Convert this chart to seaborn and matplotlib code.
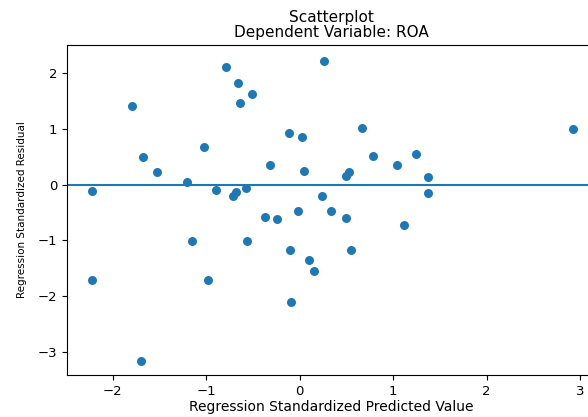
import numpy as np
import matplotlib
matplotlib.use("Agg")
import matplotlib.pyplot as plt
import pandas as pd
import seaborn as sns

# predicted vs residual values
predicted = [-2.22, -1.79, -1.68, -1.53, -1.21, -1.02, -0.90, -0.79, -0.71, -0.68,
             -0.66, -0.64, -0.58, -0.51, -0.32, -0.11, 0.02, 0.05, 0.24, 0.26,
             0.67, 0.78, 1.24, 1.04, 0.50, 0.53, 1.37, 1.37, 0.33, 0.50,
             -0.02, 1.12, 0.55, 0.10, 0.15, 2.92, -0.37, -0.24, -1.15, -0.56,
             -0.10, -2.22, -0.98, -0.09, -1.70]
residual = [-0.12, 1.40, 0.50, 0.22, 0.04, 0.67, -0.10, 2.10, -0.20, -0.13,
            1.82, 1.46, -0.06, 1.63, 0.35, 0.93, 0.85, 0.25, -0.21, 2.22,
            1.01, 0.52, 0.54, 0.35, 0.15, 0.22, 0.14, -0.16, -0.47, -0.60,
            -0.47, -0.73, -1.18, -1.35, -1.54, 0.99, -0.59, -0.62, -1.02, -1.01,
            -1.17, -1.71, -1.71, -2.10, -3.16]

df = pd.DataFrame({"pred": predicted, "resid": residual})

fig = plt.figure(figsize=(5.88, 4.17), dpi=100)
ax = fig.add_axes([0.114, 0.101, 0.898, 0.791])

sns.scatterplot(data=df, x="pred", y="resid", ax=ax, s=42, linewidth=0, color="#1f77b4")
ax.axhline(0, color="#1f77b4", linewidth=1.5)

ax.set_title("Scatterplot\nDependent Variable: ROA", fontsize=11, linespacing=0.95)
ax.set_xlabel("Regression Standardized Predicted Value", fontsize=10, labelpad=2)
ax.set_ylabel("Regression Standardized Residual", fontsize=7.5, labelpad=8)
ax.tick_params(labelsize=9.5)
ax.set_xlim(-2.49, 3.16)
ax.set_ylim(-3.41, 2.50)
ax.set_xticks([-2, -1, 0, 1, 2, 3])

fig.savefig("out.png", dpi=100)
